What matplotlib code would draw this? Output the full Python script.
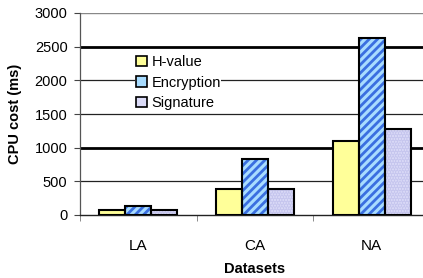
import numpy as np
import matplotlib
matplotlib.use("Agg")
import matplotlib.pyplot as plt
from matplotlib.patches import Patch

plt.rcParams["font.family"] = ["Liberation Sans", "DejaVu Sans"]
plt.rcParams["hatch.linewidth"] = 2.0

# ---------------------------------------------------------------------------
# data
# ---------------------------------------------------------------------------
datasets = ["LA", "CA", "NA"]
h_value = [75, 380, 1100]
encryption = [135, 825, 2625]
signature = [75, 390, 1280]
y_ticks = [0, 500, 1000, 1500, 2000, 2500, 3000]

series = [
    ("H-value", h_value, "#FFFF99", None, None),
    ("Encryption", encryption, "#A8DCFF", "////", "#3A6FE0"),
    ("Signature", signature, "#DCDCF8", "......", "#C6C6EE"),
]

fig = plt.figure(figsize=(4.23, 2.78), dpi=100)
ax = fig.add_axes([80 / 423, 63 / 278, 350 / 423, 202 / 278])

# gridlines (the 1000 and 2500 lines render heavier in the original)
for yv in y_ticks[1:]:
    if yv in (1000, 2500):
        ax.axhline(yv, color="black", lw=2.0, zorder=0)
    elif yv == 3000:
        ax.axhline(yv, color="#888888", lw=1.0, zorder=0)
    else:
        ax.axhline(yv, color="#222222", lw=0.9, zorder=0)

x = np.arange(len(datasets))
width = 0.223
handles = []
for i, (name, vals, fc, hatch, hc) in enumerate(series):
    pos = x + (i - 1) * width
    if hatch:
        ax.bar(pos, vals, width, color=fc, hatch=hatch, edgecolor=hc, lw=0, zorder=2)
        ax.bar(pos, vals, width, fill=False, edgecolor="black", lw=1.5, zorder=3)
    else:
        ax.bar(pos, vals, width, color=fc, edgecolor="black", lw=1.5, zorder=3)
    handles.append(Patch(facecolor=fc, edgecolor="black", lw=1.2, label=name))

ax.set_xlim(-0.5, 2.5)
ax.set_ylim(0, 3000)
ax.set_yticks(y_ticks)
ax.tick_params(axis="y", labelsize=10.5, length=4, color="#444444", pad=5)
ax.set_xticks(x)
ax.set_xticklabels(datasets, fontsize=11)
ax.tick_params(axis="x", length=0, pad=17)
ax.set_xticks([-0.5, 0.5, 1.5], minor=True)
ax.tick_params(axis="x", which="minor", length=4, color="#777777")

for side in ("top", "right"):
    ax.spines[side].set_visible(False)
ax.spines["left"].set_color("#555555")
ax.spines["left"].set_linewidth(0.9)
ax.spines["bottom"].set_color("#222222")
ax.spines["bottom"].set_linewidth(1.0)

ax.set_ylabel("CPU cost (ms)", fontsize=10.5, fontweight="bold", labelpad=9)
ax.set_xlabel("Datasets", fontsize=10.5, fontweight="bold")
ax.xaxis.set_label_coords(0.5, -47 / 202)

leg = ax.legend(handles=handles, loc="upper left", bbox_to_anchor=(128 / 423, 1 - 47 / 278),
                bbox_transform=fig.transFigure, frameon=True, fancybox=False,
                edgecolor="none", facecolor="white", framealpha=1, fontsize=10.5,
                handlelength=0.75, handleheight=0.75, handletextpad=0.3,
                labelspacing=0.45, borderpad=0.05)
leg.set_zorder(4)

fig.savefig("out.png", dpi=100)
